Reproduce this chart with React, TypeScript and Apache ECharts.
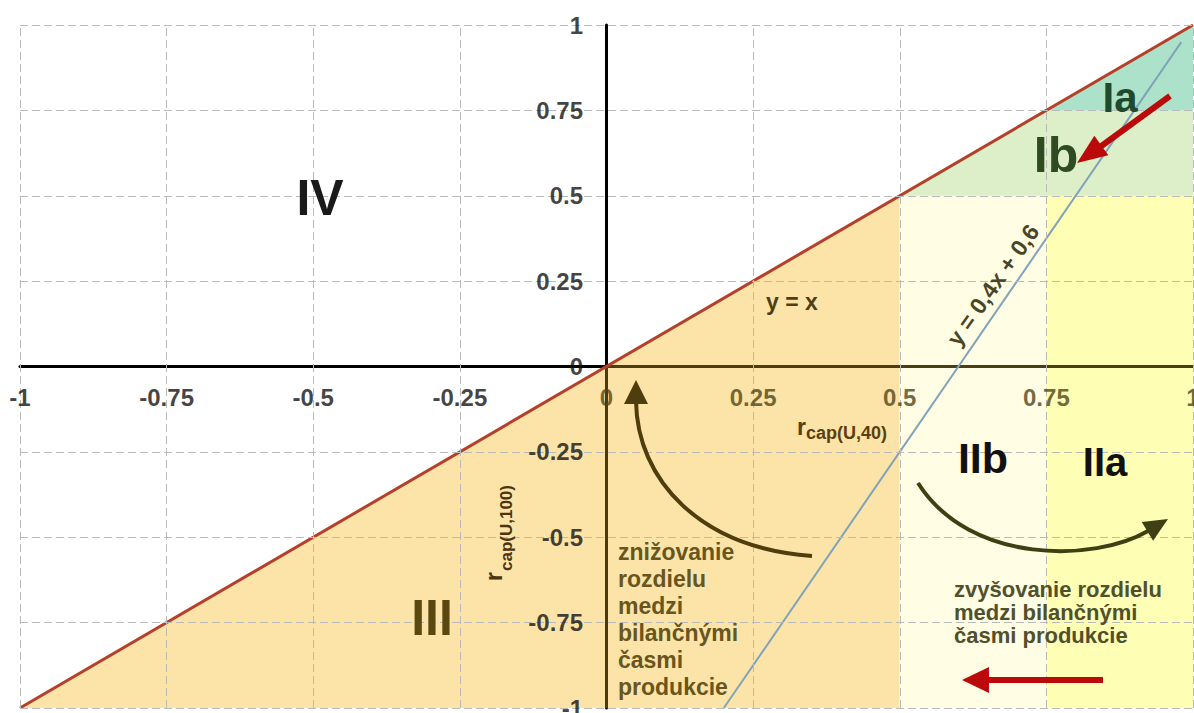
import React, { useEffect, useRef } from "react";
import * as echarts from "echarts";

// ---- data ----
const xTickValues = [-1, -0.75, -0.5, -0.25, 0, 0.25, 0.5, 0.75, 1];
const yTickValues = [-1, -0.75, -0.5, -0.25, 0, 0.25, 0.5, 0.75, 1];

const identityLine = [[-1, -1], [1, 1]]; // y = x
const boundaryLine = [[0.2, -1], [0.98, 0.95]]; // "y = 0,4x + 0,6"

const regionIII = [[-1, -1], [0.5, 0.5], [0.5, -1]];
const regionIIb = [[0.5, -1], [0.5, 0.5], [0.75, 0.5], [0.75, -1]];
const regionIIa = [[0.75, -1], [0.75, 0.5], [1, 0.5], [1, -1]];
const regionIb = [[0.5, 0.5], [0.75, 0.75], [1, 0.75], [1, 0.5]];
const regionIa = [[0.75, 0.75], [1, 1], [1, 0.75]];

const xAxisNeg = [[-1, 0], [0, 0]];
const xAxisPos = [[0, 0], [1, 0]];
const yAxisPos = [[0, 0], [0, 1]];
const yAxisNeg = [[0, -1], [0, 0]];

const regionLabels = ["IV", "III", "IIb", "IIa", "Ib", "Ia"];

// ---- styles ----
const FONT = '"Liberation Sans", Arial, sans-serif';
const regions = [regionIII, regionIIb, regionIIa, regionIb, regionIa];
const regionColors = ["#fce4a8", "#fffde3", "#fefeb4", "#dcefc9", "#ace2c9"];

function head(tip: number[], from: number[], len: number, hw: number) {
  const dx = tip[0] - from[0];
  const dy = tip[1] - from[1];
  const L = Math.hypot(dx, dy);
  const ux = dx / L;
  const uy = dy / L;
  const bx = tip[0] - ux * len;
  const by = tip[1] - uy * len;
  return [
    [tip[0], tip[1]],
    [bx - uy * hw, by + ux * hw],
    [bx + uy * hw, by - ux * hw],
  ];
}

function txt(text: string, x: number, y: number, size: number, fill: string, extra: any = {}) {
  return {
    type: "text",
    x,
    y,
    z: 100,
    rotation: extra.rotation || 0,
    style: {
      text,
      fill,
      fontSize: size,
      fontWeight: "bold",
      fontFamily: FONT,
      align: extra.align || "center",
      verticalAlign: extra.verticalAlign || "middle",
      lineHeight: extra.lineHeight,
    },
  };
}

export default function App() {
  const ref = useRef<HTMLDivElement>(null);
  useEffect(() => {
    if (!ref.current) return;
    const chart = echarts.init(ref.current, null, { renderer: "svg" });

    const gridLines: any[] = [];
    xTickValues.forEach((v) => {
      if (v !== 0) gridLines.push({ xAxis: v });
    });
    yTickValues.forEach((v) => {
      if (v !== 0) gridLines.push({ yAxis: v });
    });

    const axisSeg = (data: number[][], color: string) => ({
      type: "line",
      data,
      showSymbol: false,
      silent: true,
      z: 3,
      lineStyle: { color, width: 3 },
    });

    const tickLabelStyle = {
      show: true,
      fontSize: 24,
      fontWeight: "bold",
      fontFamily: FONT,
      formatter: (p: any) => p.name,
    };

    const brown1 = "#4f3d0d";
    const olive2 = "#3f3f14";
    const red = "#bb0a0a";

    const graphics: any[] = [
      txt(regionLabels[0], 320, 198, 50, "#1a1a1a"),
      txt(regionLabels[1], 432, 618, 50, "#5a4810"),
      txt(regionLabels[2], 983, 458, 43, "#111111"),
      txt(regionLabels[3], 1105, 462, 40, "#111111"),
      txt(regionLabels[4], 1056, 155, 50, "#2e4b22"),
      txt(regionLabels[5], 1120, 97, 42, "#1f4a2c"),
      txt("y = x", 792, 302, 23, "#4d4018"),
      txt("y = 0,4x + 0,6", 993, 285, 23, "#4b4528", { rotation: (55 * Math.PI) / 180 }),
      txt("r", 797, 427, 23, "#5a4010", { align: "left" }),
      txt("cap(U,40)", 806, 433, 18, "#5a4010", { align: "left" }),
      {
        type: "group",
        x: 496,
        y: 581,
        rotation: Math.PI / 2,
        z: 100,
        children: [
          txt("r", 0, -2, 23, "#4a3510", { align: "left" }),
          txt("cap(U,100)", 10, 10, 17, "#4a3510", { align: "left" }),
        ],
      },
      txt("znižovanie\nrozdielu\nmedzi\nbilančnými\nčasmi\nprodukcie", 618, 538, 23, "#69551e", {
        align: "left",
        verticalAlign: "top",
        lineHeight: 27,
      }),
      txt("zvyšovanie rozdielu\nmedzi bilančnými\nčasmi produkcie", 954, 578, 22, "#50502d", {
        align: "left",
        verticalAlign: "top",
        lineHeight: 23,
      }),
      // brown curved arrow (towards origin)
      {
        type: "bezierCurve",
        z: 100,
        shape: { x1: 812, y1: 556, cpx1: 700, cpy1: 548, cpx2: 637, cpy2: 480, x2: 636, y2: 401 },
        style: { stroke: brown1, lineWidth: 4, fill: "none" },
      },
      { type: "polygon", z: 100, shape: { points: head([636, 380], [636, 402], 24, 12) }, style: { fill: brown1 } },
      // olive curved arrow (to the right)
      {
        type: "bezierCurve",
        z: 100,
        shape: { x1: 918, y1: 483, cpx1: 970, cpy1: 565, cpx2: 1095, cpy2: 562, x2: 1148, y2: 531 },
        style: { stroke: olive2, lineWidth: 4, fill: "none" },
      },
      { type: "polygon", z: 100, shape: { points: head([1168, 519], [1148, 531], 24, 11) }, style: { fill: olive2 } },
      // red arrows
      { type: "line", z: 100, shape: { x1: 1170, y1: 96, x2: 1100, y2: 147 }, style: { stroke: red, lineWidth: 6 } },
      { type: "polygon", z: 100, shape: { points: head([1077, 163], [1170, 96], 30, 12) }, style: { fill: red } },
      { type: "line", z: 100, shape: { x1: 1103, y1: 680, x2: 988, y2: 680 }, style: { stroke: red, lineWidth: 6 } },
      { type: "polygon", z: 100, shape: { points: head([962, 680], [1103, 680], 27, 13) }, style: { fill: red } },
    ];

    const option: any = {
      animation: false,
      backgroundColor: "#ffffff",
      grid: { left: 20, right: 1, top: 25, bottom: 5, containLabel: false, outerBoundsMode: "none" },
      xAxis: {
        type: "value",
        min: -1,
        max: 1,
        interval: 0.25,
        axisLine: { onZero: true, lineStyle: { color: "#000", width: 3 } },
        axisTick: { show: false },
        splitLine: { show: false },
        axisLabel: { show: false },
      },
      yAxis: {
        type: "value",
        min: -1,
        max: 1,
        interval: 0.25,
        axisLine: { onZero: true, lineStyle: { color: "#000", width: 3 } },
        axisTick: { show: false },
        splitLine: { show: false },
        axisLabel: { show: false },
      },
      series: [
        {
          type: "custom",
          z: 1,
          silent: true,
          clip: true,
          data: regions.map((_, i) => [i]),
          renderItem: (params: any, api: any) => {
            const idx = api.value(0);
            const pts = regions[idx].map((p) => api.coord(p));
            return {
              type: "polygon",
              shape: { points: pts },
              style: { fill: regionColors[idx], stroke: "none" },
            };
          },
        },
        {
          type: "line",
          data: [],
          z: 2,
          silent: true,
          markLine: {
            silent: true,
            symbol: ["none", "none"],
            label: { show: false },
            lineStyle: { type: [8, 4], color: "#bababa", width: 1 },
            data: gridLines,
          },
        },
        axisSeg(xAxisNeg, "#000000"),
        axisSeg(xAxisPos, "#4a3e12"),
        axisSeg(yAxisPos, "#000000"),
        axisSeg(yAxisNeg, "#4d3a0c"),
        {
          type: "line",
          data: identityLine,
          showSymbol: false,
          silent: true,
          z: 4,
          lineStyle: { color: "#b5402a", width: 3 },
        },
        {
          type: "line",
          data: boundaryLine,
          showSymbol: false,
          silent: true,
          z: 4,
          lineStyle: { color: "#80a3b9", width: 2 },
        },
        // x tick labels along y = 0
        {
          type: "scatter",
          z: 6,
          silent: true,
          symbolSize: 1,
          itemStyle: { color: "rgba(0,0,0,0)" },
          data: xTickValues.map((v) => ({
            name: String(v),
            value: [v, 0],
            label: { color: v >= 0 ? "#4d4318" : "#111111" },
          })),
          label: { ...tickLabelStyle, position: "bottom", distance: 18 },
        },
        // y tick labels along x = 0
        {
          type: "scatter",
          z: 6,
          silent: true,
          symbolSize: 1,
          itemStyle: { color: "rgba(0,0,0,0)" },
          data: yTickValues.map((v) => ({
            name: String(v),
            value: [0, v],
            label: { color: "#111111" },
          })),
          label: { ...tickLabelStyle, position: "left", distance: 23 },
        },
      ],
      graphic: { elements: graphics },
    };
    chart.setOption(option);
    return () => chart.dispose();
  }, []);
  return (
    <div
      ref={ref}
      style={{ position: "fixed", left: 0, top: 0, width: 1194, height: 713, background: "#fff" }}
    />
  );
}
